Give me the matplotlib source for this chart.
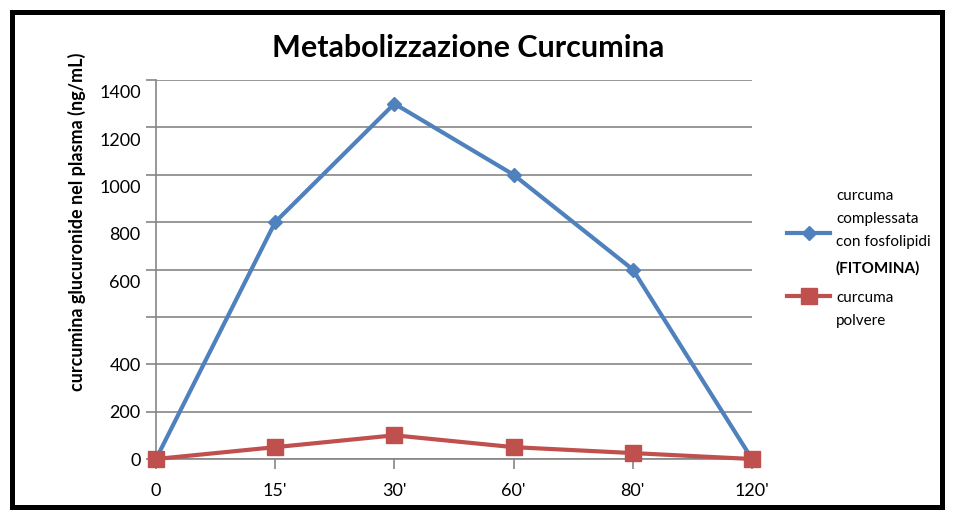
import matplotlib
matplotlib.use("Agg")
import matplotlib.pyplot as plt
from matplotlib.lines import Line2D
from matplotlib.patches import Rectangle

plt.rcParams['font.family'] = ['Lato', 'DejaVu Sans']

# dati (unita' dell'asse disegnato)
tempi = ["0", "15'", "30'", "60'", "80'", "120'"]
fitomina = [0, 1000, 1500, 1200, 800, 0]
polvere = [0, 50, 100, 50, 25, 0]

# etichette dell'asse y come appaiono (scritte a mano, spostate)
griglia_y = [0, 200, 400, 600, 800, 1000, 1200, 1400, 1600]
etich_pos = [0, 200, 400, 750, 950, 1150, 1350, 1550]
etich_y = ["0", "200", "400", "600", "800", "1000", "1200", "1400"]

blu = "#4F81BD"
rosso = "#C0504D"
grigio = "#868686"

W, H = 969, 519
fig = plt.figure(figsize=(W / 100, H / 100), dpi=100)
ax = fig.add_axes([156 / W, (H - 459) / H, (752 - 156) / W, (459 - 80) / H])

x = list(range(len(tempi)))
ax.plot(x, fitomina, color=blu, lw=3, marker="D", ms=7, clip_on=False, zorder=3)
ax.plot(x, polvere, color=rosso, lw=3, marker="s", ms=11, clip_on=False, zorder=4)

ax.set_xlim(0, 5)
ax.set_ylim(0, 1600)
ax.set_xticks(x)
ax.set_xticklabels(tempi, fontsize=13)
ax.yaxis.remove_overlapping_locs = False
ax.set_yticks(griglia_y)
ax.set_yticklabels([])
ax.set_yticks(etich_pos, minor=True)
ax.set_yticklabels(etich_y, minor=True, fontsize=13)
ax.tick_params(axis="y", which="minor", length=0, pad=11)
ax.tick_params(axis="y", which="major", length=7, color=grigio, width=1.2)
ax.tick_params(axis="x", length=7, color=grigio, width=1.2, pad=10)
ax.grid(axis="y", color=grigio, lw=1.2)
ax.set_axisbelow(True)
for s in ["top", "right"]:
    ax.spines[s].set_visible(False)
for s in ["left", "bottom"]:
    ax.spines[s].set_color(grigio)
    ax.spines[s].set_linewidth(1.2)

ax.set_ylabel("curcumina glucuronide nel plasma (ng/mL)", fontsize=13,
              fontweight="bold")
ax.yaxis.set_label_coords(-0.118, 0.625)

fig.text(468 / W, 1 - 48 / H, "Metabolizzazione Curcumina", fontsize=22,
         fontweight="bold", ha="center", va="center")

# legenda
def fy(p):
    return 1 - p / H

fig.add_artist(Line2D([787 / W, 830 / W], [fy(233), fy(233)], color=blu, lw=3))
fig.add_artist(Line2D([808.5 / W], [fy(233)], color=blu, marker="D", ms=7, lw=0))
fig.add_artist(Line2D([787 / W, 830 / W], [fy(296), fy(296)], color=rosso, lw=3))
fig.add_artist(Line2D([808.5 / W], [fy(296)], color=rosso, marker="s", ms=11, lw=0))
righe = ["curcuma", "complessata", "con fosfolipidi"]
for i, r in enumerate(righe):
    fig.text(836 / W, fy(196 + i * 23), r, fontsize=11, va="center")
fig.text(836 / W, fy(268), "(FITOMINA)", fontsize=11, fontweight="bold", va="center")
fig.text(836 / W, fy(298), "curcuma", fontsize=11, va="center")
fig.text(836 / W, fy(321), "polvere", fontsize=11, va="center")

# cornice
fig.add_artist(Rectangle((12 / W, 1 - 507 / H), (942 - 12) / W, (507 - 12) / H,
                         transform=fig.transFigure, fill=False, lw=3.6,
                         edgecolor="black"))

fig.savefig("out.png", dpi=100)
